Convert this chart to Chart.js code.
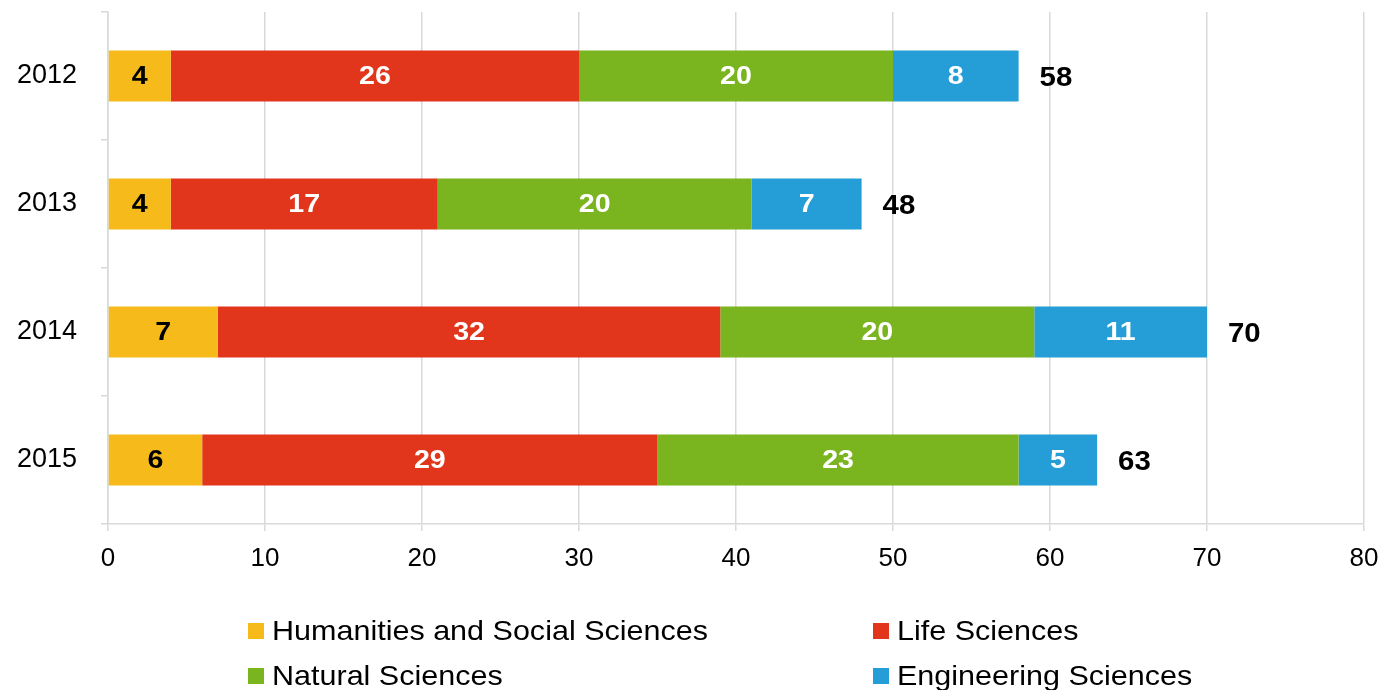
<!DOCTYPE html>
<html>
<head>
<meta charset="utf-8">
<script src="https://cdn.jsdelivr.net/npm/chart.js@4/dist/chart.umd.min.js"></script>
<style>
  html, body { margin: 0; padding: 0; background: #fff; }
  #wrap { width: 1381px; height: 690px; position: relative; }
</style>
</head>
<body>
<div id="wrap"><canvas id="fieldChart"></canvas></div>
<script>
//Data
const years = ['2012', '2013', '2014', '2015'];
const humanities = [4, 4, 7, 6];
const life = [26, 17, 32, 29];
const natural = [20, 20, 20, 23];
const engineering = [8, 7, 11, 5];
const xTicks = [0, 10, 20, 30, 40, 50, 60, 70, 80];

const seriesNames = ['Humanities and Social Sciences', 'Life Sciences', 'Natural Sciences', 'Engineering Sciences'];
const seriesColors = ['#F6BB1A', '#E2361C', '#7AB520', '#259DD6'];
const labelColors = ['#000', '#fff', '#fff', '#fff'];

const FONT = "'Liberation Sans', Arial, sans-serif";

//Text slightly stretched sideways like the original
function wideText(ctx, txt, x, y, sx) {
    ctx.save();
    ctx.translate(x, y);
    ctx.scale(sx, 1);
    ctx.fillText(txt, 0, 0);
    ctx.restore();
}

//Labels inside segments + totals
const barLabels = {
    id: 'barLabels',
    afterDatasetsDraw(chart) {
        const ctx = chart.ctx;
        ctx.save();
        ctx.textBaseline = 'middle';
        chart.data.datasets.forEach((ds, i) => {
            const meta = chart.getDatasetMeta(i);
            meta.data.forEach((bar, j) => {
                ctx.font = 'bold 26px ' + FONT;
                ctx.fillStyle = labelColors[i];
                ctx.textAlign = 'center';
                wideText(ctx, ds.data[j], (bar.x + bar.base) / 2, bar.y + 1, 1.1);
            });
        });
        // totals
        const last = chart.getDatasetMeta(chart.data.datasets.length - 1);
        last.data.forEach((bar, j) => {
            const total = humanities[j] + life[j] + natural[j] + engineering[j];
            ctx.font = 'bold 28px ' + FONT;
            ctx.fillStyle = '#000';
            ctx.textAlign = 'left';
            wideText(ctx, total, bar.x + 21, bar.y + 2, 1.05);
        });
        ctx.restore();
    }
};

//Two column legend under the axis
const colLegend = {
    id: 'colLegend',
    afterDraw(chart) {
        const ctx = chart.ctx;
        const cols = [248, 873];
        const rows = [631, 676];
        ctx.save();
        ctx.font = '28px ' + FONT;
        ctx.textBaseline = 'middle';
        ctx.textAlign = 'left';
        seriesNames.forEach((name, i) => {
            const x = cols[i % 2];
            const y = rows[Math.floor(i / 2)];
            ctx.fillStyle = seriesColors[i];
            ctx.fillRect(x, y - 8, 16, 16);
            ctx.fillStyle = '#000';
            wideText(ctx, name, x + 24, y + 1, 1.09);
        });
        ctx.restore();
    }
};

const fieldData = {
    labels: years,
    datasets: [humanities, life, natural, engineering].map((vals, i) => ({
        label: seriesNames[i],
        data: vals,
        backgroundColor: seriesColors[i],
        borderWidth: 0,
        barPercentage: 0.4,
        categoryPercentage: 1
    }))
};

const fieldOptions = {
    indexAxis: 'y',
    responsive: true,
    maintainAspectRatio: false,
    animation: false,
    layout: { padding: { top: 12, right: 17, left: 0, bottom: 0 } },
    scales: {
        x: {
            stacked: true,
            min: 0,
            max: 80,
            afterBuildTicks: (scale) => { scale.ticks = xTicks.map(v => ({ value: v })); },
            afterFit: (scale) => {
                scale.height = 166;
                scale.paddingLeft = 0;
                scale.paddingRight = 0;
            },
            grid: { color: '#d9d9d9', lineWidth: 1.5, tickLength: 7 },
            border: { color: '#d9d9d9', width: 1.5 },
            ticks: { color: '#000', padding: 12, font: { family: FONT, size: 26 } }
        },
        y: {
            stacked: true,
            afterFit: (scale) => {
                scale.width = 108;
                scale.paddingTop = 0;
                scale.paddingBottom = 0;
            },
            grid: { color: '#d9d9d9', lineWidth: 1.5, tickLength: 7, drawOnChartArea: false },
            border: { color: '#d9d9d9', width: 1.5 },
            ticks: { color: '#000', padding: 24, font: { family: FONT, size: 27 } }
        }
    },
    plugins: {
        legend: { display: false },
        tooltip: { enabled: false }
    }
};

let fieldChart = new Chart(document.getElementById('fieldChart'), {
    type: 'bar',
    data: fieldData,
    options: fieldOptions,
    plugins: [barLabels, colLegend]
});
</script>
</body>
</html>
